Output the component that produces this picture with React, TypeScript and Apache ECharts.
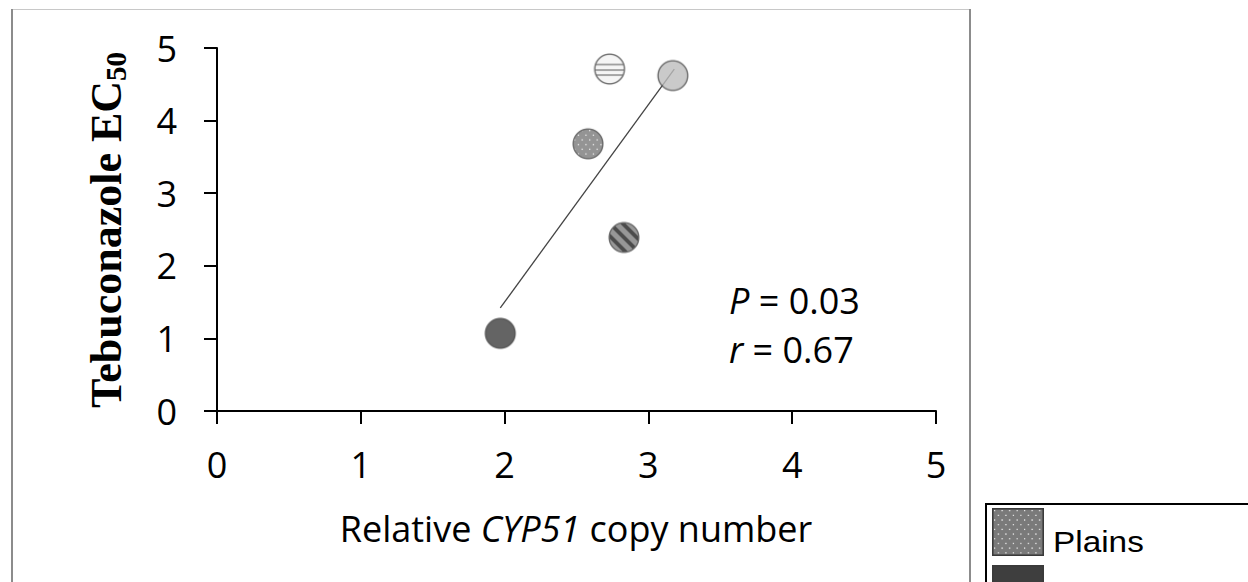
import React, { useEffect, useRef } from "react";
import * as echarts from "echarts";

// ---- data ----
const xTicks = [0, 1, 2, 3, 4, 5];
const yTicks = [0, 1, 2, 3, 4, 5];
const copyNumber = [1.97, 2.58, 2.73, 2.83, 3.17];
const ec50 = [1.07, 3.68, 4.71, 2.39, 4.62];
const pointPatterns = ["dark", "dots", "hstripes", "diagonal", "light"];
const trendX = [1.97, 3.18];
const trendY = [1.42, 4.71];
const pValue = "0.03";
const rValue = "0.67";
const legendLabels = ["Plains", ""];
const legendPatterns = ["dots", "dark"];

const SANS = '"Open Sans", sans-serif';

function paintPattern(ctx: CanvasRenderingContext2D, kind: string, w: number, h: number, cx: number, cy: number) {
  if (kind === "dark") {
    ctx.fillStyle = "#3e3e3e";
    ctx.fillRect(0, 0, w, h);
  } else if (kind === "light") {
    ctx.fillStyle = "#bdbdbd";
    ctx.fillRect(0, 0, w, h);
  } else if (kind === "dots") {
    ctx.fillStyle = "#7a7a7a";
    ctx.fillRect(0, 0, w, h);
    ctx.fillStyle = "#e8e8e8";
    const step = 7.5;
    let row = 0;
    for (let y = 2; y < h; y += step / 1.6) {
      const off = row % 2 === 0 ? 0 : step / 2;
      for (let x = 2 + off; x < w; x += step) {
        ctx.fillRect(x, y, 1.3, 1.3);
      }
      row++;
    }
  } else if (kind === "hstripes") {
    ctx.fillStyle = "#f3f3f3";
    ctx.fillRect(0, 0, w, h);
    ctx.fillStyle = "#858585";
    [-4.5, 1, 6].forEach((dy) => ctx.fillRect(0, cy + dy - 0.9, w, 1.8));
  } else if (kind === "diagonal") {
    ctx.fillStyle = "#7e7e7e";
    ctx.fillRect(0, 0, w, h);
    ctx.strokeStyle = "#1e1e1e";
    ctx.lineWidth = 3.8;
    [-9, 0, 9].forEach((d) => {
      const ox = cx + (d * Math.SQRT2) / 2;
      const oy = cy - (d * Math.SQRT2) / 2;
      ctx.beginPath();
      ctx.moveTo(ox - 30, oy - 30);
      ctx.lineTo(ox + 30, oy + 30);
      ctx.stroke();
    });
  }
}

function makeMarker(kind: string): string {
  const S = 4;
  const D = 32;
  const c = document.createElement("canvas");
  c.width = D * S;
  c.height = D * S;
  const ctx = c.getContext("2d")!;
  ctx.scale(S, S);
  const cx = 16, cy = 16, r = 14.8;
  ctx.save();
  ctx.beginPath();
  ctx.arc(cx, cy, r, 0, Math.PI * 2);
  ctx.clip();
  paintPattern(ctx, kind, D, D, cx, cy);
  ctx.restore();
  ctx.beginPath();
  ctx.arc(cx, cy, r, 0, Math.PI * 2);
  ctx.lineWidth = 1.4;
  ctx.strokeStyle = kind === "dark" ? "#2e2e2e" : "#474747";
  ctx.stroke();
  return c.toDataURL();
}

function makeSwatch(kind: string, w: number, h: number): string {
  const S = 3;
  const c = document.createElement("canvas");
  c.width = w * S;
  c.height = h * S;
  const ctx = c.getContext("2d")!;
  ctx.scale(S, S);
  paintPattern(ctx, kind, w, h, w / 2, h / 2);
  ctx.strokeStyle = "#3a3a3a";
  ctx.lineWidth = 1.6;
  ctx.strokeRect(0.8, 0.8, w - 1.6, h - 1.6);
  return c.toDataURL();
}

export default function App() {
  const ref = useRef<HTMLDivElement>(null);

  useEffect(() => {
    if (!ref.current) return;
    const chart = echarts.init(ref.current, undefined, { renderer: "svg" });

    const scatterSeries = copyNumber.map((x, i) => ({
      type: "scatter",
      name: pointPatterns[i],
      z: 3,
      symbol: "image://" + makeMarker(pointPatterns[i]),
      symbolSize: 32,
      data: [[x, ec50[i]]],
    }));

    const legendGraphics: any[] = [
      {
        type: "rect",
        shape: { x: 986, y: 504, width: 320, height: 120 },
        style: { fill: "#fff", stroke: "#000", lineWidth: 2 },
      },
    ];
    legendPatterns.forEach((k, i) => {
      legendGraphics.push({
        type: "image",
        style: { image: makeSwatch(k, 52, 48), x: 992, y: 508 + i * 57, width: 52, height: 48 },
      });
      if (legendLabels[i]) {
        legendGraphics.push({
          type: "text",
          x: 1053,
          y: 542 + i * 57,
          scaleX: 1.15,
          style: {
            text: legendLabels[i],
            font: '29px "Liberation Sans", Arial, sans-serif',
            fill: "#000",
            align: "left",
            verticalAlign: "middle",
          },
        });
      }
    });

    chart.setOption({
      animation: false,
      backgroundColor: "#fff",
      grid: { left: 217, right: 312, top: 48, bottom: 171, containLabel: false },
      xAxis: {
        type: "value",
        min: xTicks[0],
        max: xTicks[xTicks.length - 1],
        interval: 1,
        splitLine: { show: false },
        axisLine: { show: true, onZero: false, lineStyle: { color: "#000", width: 2 } },
        axisTick: { show: true, length: 13, lineStyle: { color: "#000", width: 2 } },
        axisLabel: { fontSize: 36, fontFamily: SANS, color: "#000", margin: 35 },
      },
      yAxis: {
        type: "value",
        min: yTicks[0],
        max: yTicks[yTicks.length - 1],
        interval: 1,
        splitLine: { show: false },
        axisLine: { show: true, onZero: false, lineStyle: { color: "#000", width: 2 } },
        axisTick: { show: true, length: 13, lineStyle: { color: "#000", width: 2 } },
        axisLabel: { fontSize: 36, fontFamily: SANS, color: "#000", margin: 40 },
      },
      series: [
        {
          type: "line",
          z: 2,
          symbol: "none",
          data: trendX.map((x, i) => [x, trendY[i]]),
          lineStyle: { color: "#444", width: 1.3 },
        },
        ...scatterSeries,
      ],
      graphic: [
        { type: "line", shape: { x1: 11, y1: 9.5, x2: 971, y2: 9.5 }, style: { stroke: "#c8c8c8", lineWidth: 1 } },
        { type: "line", shape: { x1: 12, y1: 9, x2: 12, y2: 600 }, style: { stroke: "#8c8c8c", lineWidth: 2 } },
        { type: "line", shape: { x1: 970, y1: 9, x2: 970, y2: 600 }, style: { stroke: "#8c8c8c", lineWidth: 2 } },
        {
          type: "text",
          x: 106,
          y: 230,
          rotation: Math.PI / 2,
          style: {
            text: "{a|Tebuconazole EC}{s|50}",
            align: "center",
            verticalAlign: "middle",
            fill: "#000",
            rich: {
              a: { fontSize: 44, fontWeight: "bold", fontFamily: '"Liberation Serif", "Times New Roman", serif', lineHeight: 48 },
              s: { fontSize: 29, fontWeight: "bold", fontFamily: '"Liberation Serif", "Times New Roman", serif', lineHeight: 31, verticalAlign: "bottom" },
            },
          },
        },
        {
          type: "text",
          x: 576,
          y: 528,
          style: {
            text: "{n|Relative }{i|CYP51}{n| copy number}",
            align: "center",
            verticalAlign: "middle",
            fill: "#000",
            rich: {
              n: { fontSize: 36, fontFamily: SANS, fill: "#000" },
              i: { fontSize: 36, fontFamily: SANS, fontStyle: "italic", fill: "#000" },
            },
          },
        },
        {
          type: "text",
          x: 729,
          y: 300,
          style: {
            text: "{i|P}{n| = " + pValue + "}",
            align: "left",
            verticalAlign: "middle",
            rich: {
              n: { fontSize: 36, fontFamily: SANS, fill: "#000" },
              i: { fontSize: 36, fontFamily: SANS, fontStyle: "italic", fill: "#000" },
            },
          },
        },
        {
          type: "text",
          x: 729,
          y: 349,
          style: {
            text: "{i|r}{n| = " + rValue + "}",
            align: "left",
            verticalAlign: "middle",
            rich: {
              n: { fontSize: 36, fontFamily: SANS, fill: "#000" },
              i: { fontSize: 36, fontFamily: SANS, fontStyle: "italic", fill: "#000" },
            },
          },
        },
        ...legendGraphics,
      ],
    });

    return () => chart.dispose();
  }, []);

  return (
    <div
      ref={ref}
      style={{ position: "absolute", left: 0, top: 0, width: 1248, height: 582, background: "#fff" }}
    />
  );
}
